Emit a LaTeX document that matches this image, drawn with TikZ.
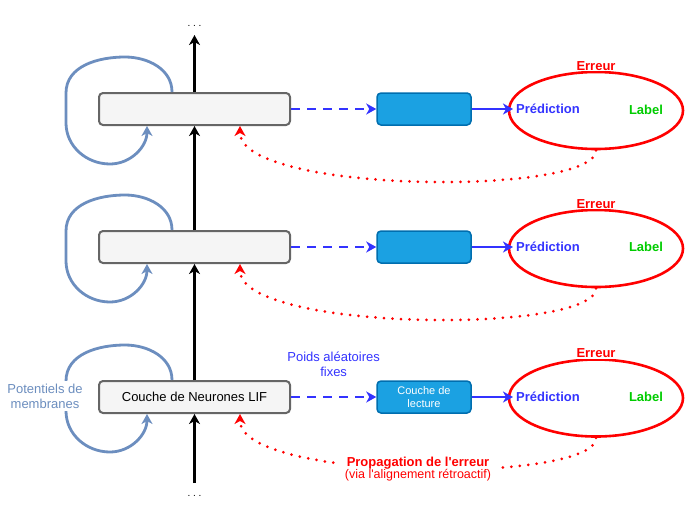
\documentclass[tikz,border=0pt]{standalone}
\usepackage{fontspec}
\setmainfont{Liberation Sans}
\usetikzlibrary{arrows.meta}
\usetikzlibrary{shapes.geometric}
\definecolor{membrane}{HTML}{6C8EBF}
\definecolor{linkblue}{HTML}{3333FF}
\definecolor{errred}{HTML}{FF0000}
\definecolor{labgreen}{HTML}{00CC00}
\definecolor{layerfill}{HTML}{F5F5F5}
\definecolor{layerdraw}{HTML}{666666}
\definecolor{readfill}{HTML}{1BA1E2}
\definecolor{readdraw}{HTML}{006EAF}
\tikzset{
	layer/.style={draw=layerdraw, fill=layerfill, line width=2pt, rounded corners=4pt,
		minimum width=191pt, minimum height=32pt, font=\fontsize{13}{15}\selectfont},
	readout/.style={draw=readdraw, fill=readfill, line width=1.5pt, rounded corners=4pt,
		minimum width=94pt, minimum height=32pt, inner sep=0pt, text=white, align=center,
		font=\fontsize{11}{13}\selectfont},
	errzone/.style={ellipse, draw=errred, line width=2.6pt, minimum width=174pt, minimum height=77pt},
	errtext/.style={fill=white, inner xsep=9pt, inner ysep=1pt, text=errred, font=\bfseries\fontsize{13}{15}\selectfont},
	predtext/.style={anchor=west, inner sep=3pt, text=linkblue, font=\bfseries\fontsize{13}{15}\selectfont},
	labtext/.style={text=labgreen, font=\bfseries\fontsize{13}{15}\selectfont},
	head/.style={-{Stealth[length=10pt, width=11pt, inset=3pt]}},
	fwd/.style={black, line width=2.5pt, head},
	memloop/.style={membrane, line width=2.8pt, head},
	ro dash/.style={linkblue, line width=2.5pt, dash pattern=on 9pt off 7pt, head},
	ro link/.style={linkblue, line width=2.5pt, head},
	feedback/.style={errred, line width=3pt, line cap=round, dash pattern=on 0pt off 8.5pt, head}
}
\begin{document}
\begin{tikzpicture}[x=1pt, y=-1pt]
	\useasboundingbox (0,0) rectangle (692,504);
	% couches
	\node[layer] (l1) at (194.5,109) {};
	\node[layer] (l2) at (194.5,247) {};
	\node[layer] (l3) at (194.5,397) {Couche de Neurones LIF};
	\node[readout] (r1) at (424,109) {};
	\node[readout] (r2) at (424,247) {};
	\node[readout] (r3) at (424,397) {Couche de\\lecture};
	\node[errzone] (e1) at (596,110.5) {};
	\node[errzone] (e2) at (596,248.5) {};
	\node[errzone] (e3) at (596,398) {};
	\node[errtext] at ([yshift=5pt]e1.north) {Erreur};
	\node[errtext] at ([yshift=5pt]e2.north) {Erreur};
	\node[errtext] at ([yshift=5pt]e3.north) {Erreur};
	\node[predtext] (p1) at (513,109) {Prédiction};
	\node[predtext] (p2) at (513,247) {Prédiction};
	\node[predtext] (p3) at (513,397) {Prédiction};
	\node[labtext] (g1) at (646,110) {Label};
	\node[labtext] (g2) at (646,247) {Label};
	\node[labtext] (g3) at (646,397) {Label};
	% axe vertical
	\coordinate (top) at (194.5,35);
	\coordinate (bot) at (194.5,483);
	\node[anchor=base] (dtop) at (194.5,26) {.\ .\ .};
	\node[anchor=base] (dbot) at (194.5,496) {.\ .\ .};
	\draw[fwd] (bot) -- (l3.south);
	\draw[fwd] (l3.north) -- (l2.south);
	\draw[fwd] (l2.north) -- (l1.south);
	\draw[fwd] (l1.north) -- (top);
	% boucles des potentiels
	\draw[memloop] ([xshift=-22.5pt]l1.north) to[out=90, in=0] ++(-47,-35) to[out=180, in=90] ++(-59,36)
		-- ++(0,30) to[out=-90, in=180] ++(44,41) to[out=0, in=-90] ([xshift=-47.5pt]l1.south);
	\draw[memloop] ([xshift=-22.5pt]l2.north) to[out=90, in=0] ++(-47,-35) to[out=180, in=90] ++(-59,36)
		-- ++(0,30) to[out=-90, in=180] ++(44,41) to[out=0, in=-90] ([xshift=-47.5pt]l2.south);
	\draw[memloop] ([xshift=-22.5pt]l3.north) to[out=90, in=0] ++(-47,-35) to[out=180, in=90] ++(-59,36)
		-- ++(0,30) to[out=-90, in=180] ++(44,41) to[out=0, in=-90] ([xshift=-47.5pt]l3.south);
	\node[fill=white, inner sep=3pt, text=membrane, align=center, font=\fontsize{13}{15}\selectfont] (pot) at (45,396) {Potentiels de\\membranes};
	% lecture
	\draw[ro dash] (l1.east) -- (r1.west);
	\draw[ro dash] (l2.east) -- (r2.west);
	\draw[ro dash] (l3.east) -- (r3.west)
		node[midway, yshift=33pt, text=linkblue, align=center, font=\fontsize{13}{15}\selectfont] (poids) {Poids aléatoires\\fixes};
	\draw[ro link] (r1.east) -- (p1.west);
	\draw[ro link] (r2.east) -- (p2.west);
	\draw[ro link] (r3.east) -- (p3.west);
	% retour de l'erreur
	\draw[feedback] (e1.south) .. controls +(0,46) and +(0,68) .. ([xshift=45.5pt]l1.south);
	\draw[feedback] (e2.south) .. controls +(0,46) and +(0,68) .. ([xshift=45.5pt]l2.south);
	\draw[feedback] (e3.south) .. controls +(0,46) and +(0,68) .. ([xshift=45.5pt]l3.south)
		node[midway, fill=white, inner xsep=6pt, inner ysep=2pt, text=errred, align=center] (prop)
		{{\bfseries\fontsize{13}{15}\selectfont Propagation de l\textquotesingle erreur}\\
		{\fontsize{12.5}{15}\selectfont (via l\textquotesingle alignement rétroactif)}};
\end{tikzpicture}
\end{document}
